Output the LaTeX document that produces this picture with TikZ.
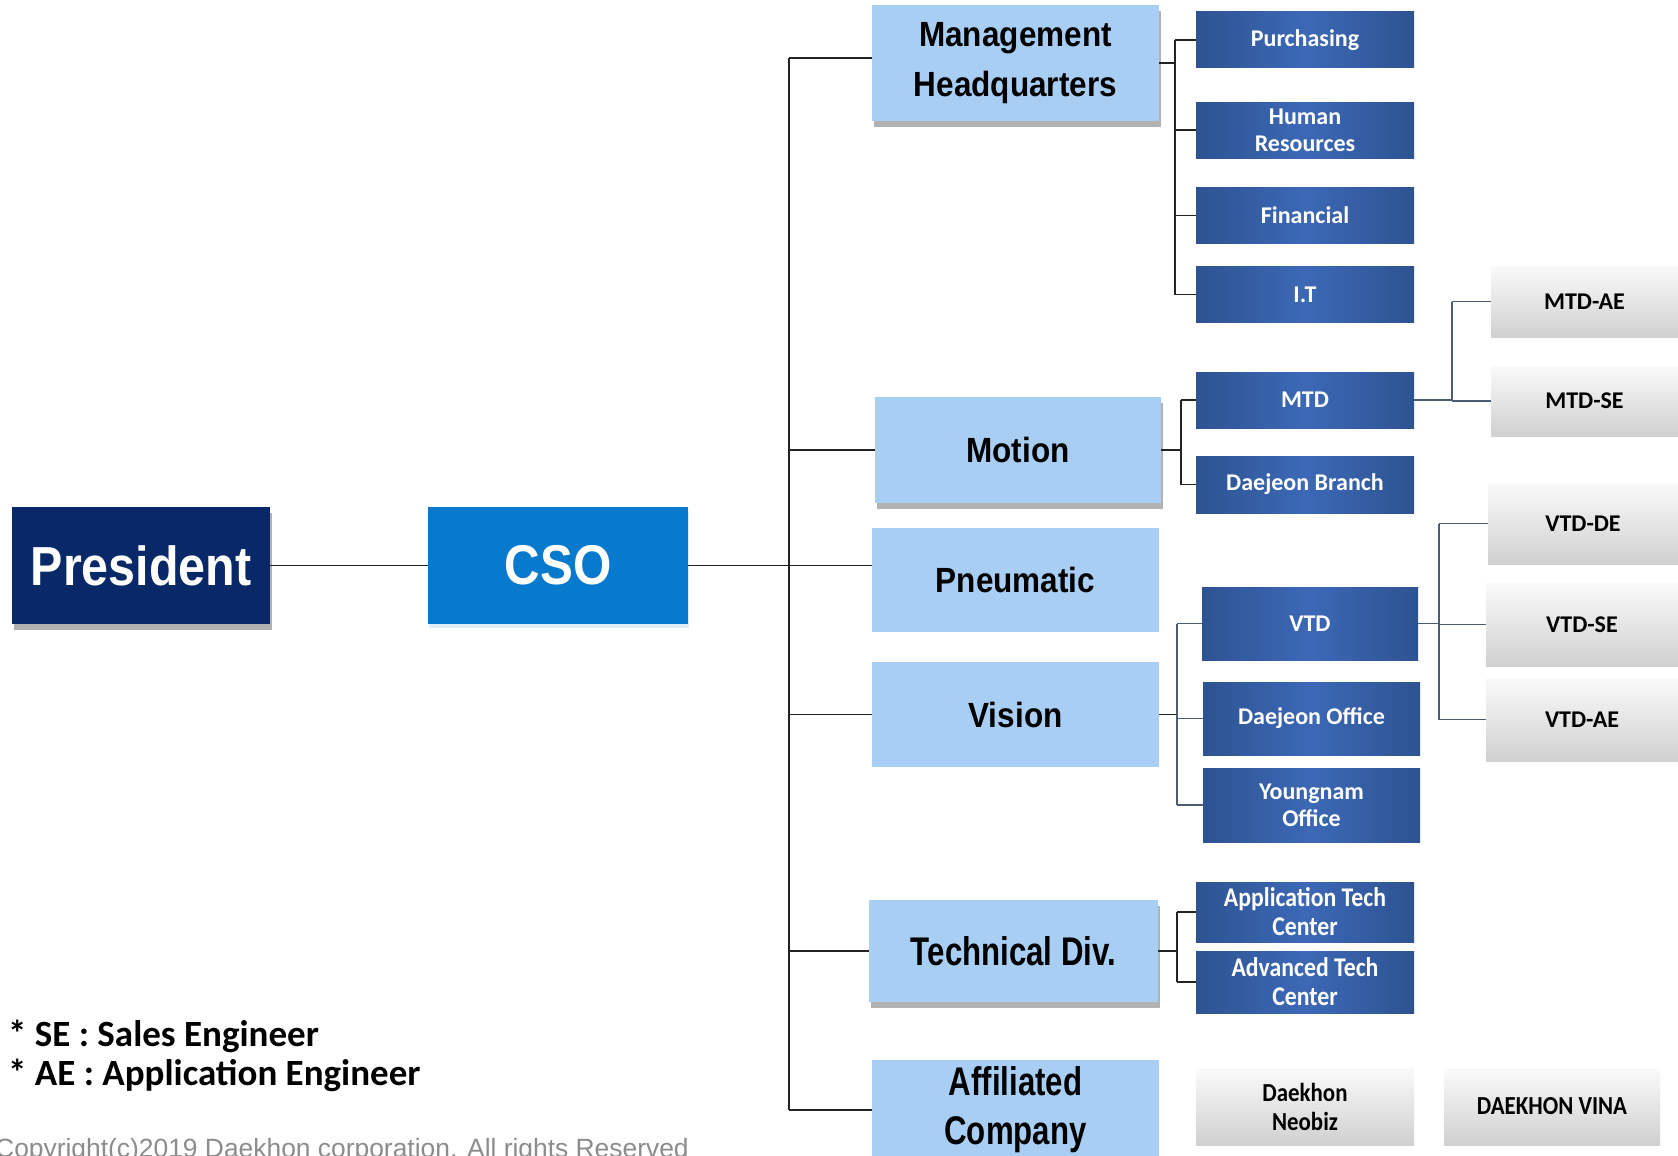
\documentclass[tikz,border=0pt]{standalone}
\usepackage{fontspec}
\setmainfont{Liberation Sans}
\newfontfamily\topfont[FakeStretch=0.88]{Liberation Sans}
\newfontfamily\headfont[FakeStretch=0.9]{Liberation Sans}
\newfontfamily\headnarrow[FakeStretch=0.78]{Liberation Sans}
\newfontfamily\unitfont{Carlito}
\newfontfamily\unitnarrow[FakeStretch=0.88]{Carlito}
\usetikzlibrary{shadows}

\definecolor{presblue}{RGB}{8,40,104}
\definecolor{csoblue}{RGB}{8,122,205}
\definecolor{divblue}{RGB}{169,206,244}
\definecolor{unitdark}{RGB}{45,83,145}
\definecolor{unitlight}{RGB}{60,104,182}
\definecolor{teamtop}{RGB}{250,250,250}
\definecolor{teambot}{RGB}{208,208,208}
\definecolor{linkgray}{RGB}{35,35,35}
\definecolor{linkslate}{RGB}{75,92,115}
\definecolor{copygray}{RGB}{140,140,140}

\tikzset{
  topbox/.style={minimum width=258pt, minimum height=117pt, inner sep=0pt,
    text=white, font=\topfont\bfseries\fontsize{55}{55}\selectfont},
  divbox/.style={fill=divblue, minimum width=287pt, inner sep=0pt, align=center,
    font=\headfont\bfseries\fontsize{35}{50}\selectfont},
  unitbox/.style={left color=unitdark, right color=unitdark, middle color=unitlight,
    minimum width=218pt, minimum height=56pt, inner sep=0pt, align=center,
    text=white, font=\unitfont\bfseries\fontsize{24}{27}\selectfont},
  teambox/.style={top color=teamtop, bottom color=teambot, minimum width=187pt,
    inner sep=0pt, align=center, font=\unitfont\bfseries\fontsize{24}{27}\selectfont},
  link/.style={draw=linkgray, line width=1.6pt},
  sublink/.style={draw=linkslate, line width=1.6pt},
  boxshadow/.style={drop shadow={shadow xshift=2pt, shadow yshift=-6pt,
    opacity=0.3, fill=black}},
}

\begin{document}
\begin{tikzpicture}[x=1pt, y=-1pt]
  \useasboundingbox (0,0) rectangle (1678,1156);
  \fill[white] (0,0) rectangle (1678,1156);

  % top of the chart
  \node[topbox, fill=presblue, boxshadow] (pres) at (141,565.5) {President};
  \node[topbox, fill=csoblue, minimum width=260pt,
    drop shadow={shadow xshift=1pt, shadow yshift=-4pt, opacity=0.12, fill=csoblue},
    font=\topfont\bfseries\fontsize{56}{56}\selectfont] (cso) at (558,565.5) {CSO};

  % divisions
  \node[divbox, minimum height=116pt, boxshadow] (mhq) at (1015.5,63) {Management\\Headquarters};
  \node[divbox, minimum width=286pt, minimum height=106pt, boxshadow] (motion) at (1018,450) {Motion};
  \node[divbox, minimum height=104pt] (pneu) at (1015.5,580) {Pneumatic};
  \node[divbox, minimum height=105pt] (vision) at (1015.5,714.5) {Vision};
  \node[divbox, minimum width=289pt, minimum height=102pt, boxshadow,
    font=\headnarrow\bfseries\fontsize{40}{49}\selectfont] (tech) at (1013.5,951) {Technical Div.};
  \node[divbox, minimum height=100pt,
    font=\headnarrow\bfseries\fontsize{40}{49}\selectfont] (affil) at (1015.5,1110) {Affiliated\\Company};

  % management units
  \node[unitbox] (purch) at (1305,40) {Purchasing};
  \node[unitbox] (hr) at (1305,130) {Human\\Resources};
  \node[unitbox] (fin) at (1305,215.5) {Financial};
  \node[unitbox] (it) at (1305,294.5) {I.T};

  % motion units
  \node[unitbox] (mtd) at (1305,400) {MTD};
  \node[unitbox, minimum height=57pt] (djb) at (1305,484.5) {Daejeon Branch};
  \node[teambox, minimum height=71pt] (mtdae) at (1584.5,301.5) {MTD-AE};
  \node[teambox, minimum height=70pt] (mtdse) at (1584.5,401) {MTD-SE};

  % vision units
  \node[unitbox, minimum width=216pt, minimum height=73pt] (vtd) at (1310,623.5) {VTD};
  \node[unitbox, minimum width=217pt, minimum height=73pt] (djo) at (1311.5,718.5) {Daejeon Office};
  \node[unitbox, minimum width=217pt, minimum height=74pt] (yno) at (1311.5,805) {Youngnam\\Office};
  \node[teambox, minimum width=190pt, minimum height=81pt] (vtdde) at (1583,523.5) {VTD-DE};
  \node[teambox, minimum width=192pt, minimum height=83pt] (vtdse) at (1582,624.5) {VTD-SE};
  \node[teambox, minimum width=192pt, minimum height=83pt] (vtdae) at (1582,719.5) {VTD-AE};

  % technical units
  \node[unitbox, minimum height=60pt,
    font=\unitnarrow\bfseries\fontsize{27}{29}\selectfont] (atc) at (1305,912) {Application Tech\\Center};
  \node[unitbox, minimum height=62pt,
    font=\unitnarrow\bfseries\fontsize{27}{29}\selectfont] (adtc) at (1305,982) {Advanced Tech\\Center};

  % affiliated companies
  \node[teambox, minimum width=218pt, minimum height=77pt,
    font=\unitnarrow\bfseries\fontsize{26}{29}\selectfont] (neobiz) at (1305,1106.5) {Daekhon\\Neobiz};
  \node[teambox, minimum width=216pt, minimum height=77pt,
    font=\unitnarrow\bfseries\fontsize{26}{29}\selectfont] (vina) at (1552,1106.5) {DAEKHON VINA};

  % main bus
  \coordinate (bus) at (789,565.5);
  \draw[link] (pres) -- (cso);
  \draw[link] (cso.east) -- (pneu.west |- cso.east);
  \draw[link] ([yshift=5pt]bus |- mhq.west) -- (bus |- affil.west);
  \draw[link] ([yshift=5pt]bus |- mhq.west) -- ([yshift=5pt]mhq.west);
  \foreach \d in {motion,vision,tech,affil}
    \draw[link] (bus |- \d.west) -- (\d.west);

  % management fork
  \draw[link] (mhq.east) -- ++(16,0) coordinate (mhqfork);
  \draw[link] (mhqfork |- purch.west) -- (mhqfork |- it.west);
  \foreach \u in {purch,hr,fin,it}
    \draw[link] (mhqfork |- \u.west) -- (\u.west);

  % motion fork
  \draw[link] (motion.east) -- ++(20,0) coordinate (motfork);
  \draw[link] (motfork |- mtd.west) -- (motfork |- djb.west);
  \foreach \u in {mtd,djb}
    \draw[link] (motfork |- \u.west) -- (\u.west);
  \draw[sublink] (mtd.east) -- ++(38,0) coordinate (mtdfork);
  \draw[sublink] (mtdfork |- mtdae.west) -- (mtdfork |- mtdse.west);
  \foreach \u in {mtdae,mtdse}
    \draw[sublink] (mtdfork |- \u.west) -- (\u.west);

  % vision fork
  \draw[link] (vision.east) -- ++(18,0) coordinate (visfork);
  \draw[sublink] (visfork |- vtd.west) -- (visfork |- yno.west);
  \foreach \u in {vtd,djo,yno}
    \draw[sublink] (visfork |- \u.west) -- (\u.west);
  \draw[sublink] (vtd.east) -- ++(21,0) coordinate (vtdfork);
  \draw[sublink] (vtdfork |- vtdde.west) -- (vtdfork |- vtdae.west);
  \foreach \u in {vtdde,vtdse,vtdae}
    \draw[sublink] (vtdfork |- \u.west) -- (\u.west);

  % technical fork
  \draw[link] (tech.east) -- ++(19,0) coordinate (techfork);
  \draw[link] (techfork |- atc.west) -- (techfork |- adtc.west);
  \foreach \u in {atc,adtc}
    \draw[link] (techfork |- \u.west) -- (\u.west);

  % notes
  \node[anchor=west, align=left, inner sep=0pt,
    font=\unitfont\bfseries\fontsize{37}{39}\selectfont] (legend) at (8,1055.5)
    {* SE : Sales Engineer\\* AE : Application Engineer};
  \node[anchor=base west, inner sep=0pt, text=copygray,
    font=\fontsize{26.4}{26.4}\selectfont] (copy) at (-5,1157)
    {Copyright(c)2019 Daekhon corporation. All rights Reserved};
\end{tikzpicture}
\end{document}
